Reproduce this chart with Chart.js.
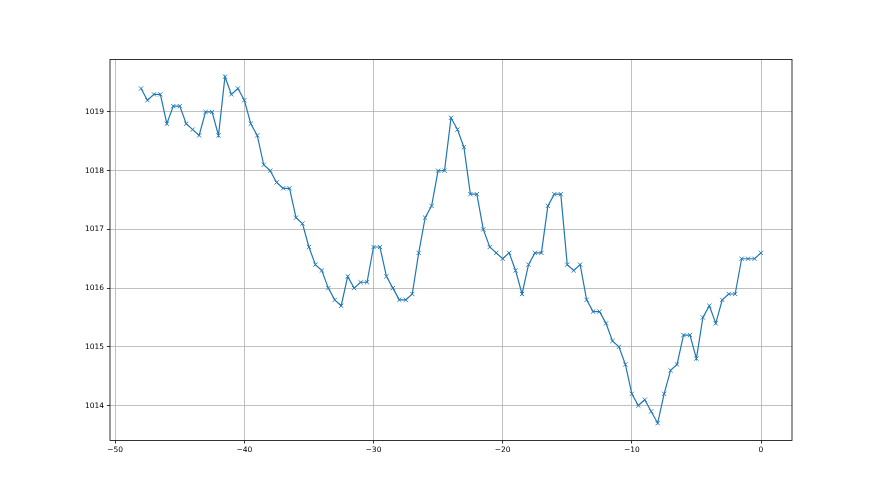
<!DOCTYPE html>
<html><head><meta charset="utf-8">
<script src="https://cdn.jsdelivr.net/npm/chart.js@4/dist/chart.umd.min.js"></script>
<style>html,body{margin:0;padding:0;background:#fff}#wrap{width:880px;height:495px}</style>
</head><body><div id="wrap"><canvas id="c" width="880" height="495"></canvas></div>
<script>
const xStart = -48, xStep = 0.5;
const pressure = [
 1019.4,1019.2,1019.3,1019.3,1018.8,1019.1,1019.1,1018.8,1018.7,1018.6,
 1019.0,1019.0,1018.6,1019.6,1019.3,1019.4,1019.2,1018.8,1018.6,1018.1,
 1018.0,1017.8,1017.7,1017.7,1017.2,1017.1,1016.7,1016.4,1016.3,1016.0,
 1015.8,1015.7,1016.2,1016.0,1016.1,1016.1,1016.7,1016.7,1016.2,1016.0,
 1015.8,1015.8,1015.9,1016.6,1017.2,1017.4,1018.0,1018.0,1018.9,1018.7,
 1018.4,1017.6,1017.6,1017.0,1016.7,1016.6,1016.5,1016.6,1016.3,1015.9,
 1016.4,1016.6,1016.6,1017.4,1017.6,1017.6,1016.4,1016.3,1016.4,1015.8,
 1015.6,1015.6,1015.4,1015.1,1015.0,1014.7,1014.2,1014.0,1014.1,1013.9,
 1013.7,1014.2,1014.6,1014.7,1015.2,1015.2,1014.8,1015.5,1015.7,1015.4,
 1015.8,1015.9,1015.9,1016.5,1016.5,1016.5,1016.6
];
const xValues = pressure.map((_, i) => xStart + i * xStep);
const xTicks = [-50, -40, -30, -20, -10, 0];
const yTicks = [1014, 1015, 1016, 1017, 1018, 1019];

const points = xValues.map((x, i) => ({x: x, y: pressure[i]}));
const xMin = -50.4, xMax = 2.4, yMin = 1013.405, yMax = 1019.895;

const frame = {
  id: 'frame',
  afterDraw(chart) {
    const a = chart.chartArea, ctx = chart.ctx;
    ctx.save();
    ctx.strokeStyle = '#000';
    ctx.lineWidth = 0.8;
    ctx.strokeRect(a.left, a.top, a.right - a.left, a.bottom - a.top);
    ctx.restore();
  }
};

new Chart(document.getElementById('c'), {
  type: 'scatter',
  data: { datasets: [{
    data: points,
    showLine: true,
    borderColor: '#1f77b4',
    backgroundColor: '#1f77b4',
    borderWidth: 1.2,
    pointStyle: 'crossRot',
    pointRadius: 3,
    pointBorderWidth: 0.9,
    pointHoverRadius: 3,
    tension: 0
  }]},
  options: {
    responsive: false,
    animation: false,
    events: [],
    layout: { padding: { left: 70, right: 88, top: 59.4, bottom: 24.5 } },
    plugins: { legend: { display: false }, tooltip: { enabled: false } },
    scales: {
      x: {
        type: 'linear', min: xMin, max: xMax,
        afterBuildTicks: ax => { ax.ticks = xTicks.map(v => ({value: v})); },
        afterFit: s => { s.height = 30; },
        grid: { color: '#b0b0b0', lineWidth: 0.8, tickColor: '#000', tickLength: 3, drawTicks: true },
        border: { display: false },
        ticks: { color: '#000', padding: 2, maxRotation: 0, font: { family: 'DejaVu Sans', size: 7.5 },
                 callback: v => (v < 0 ? '\u2212' + Math.abs(v) : String(v)) }
      },
      y: {
        type: 'linear', min: yMin, max: yMax,
        afterBuildTicks: ax => { ax.ticks = yTicks.map(v => ({value: v})); },
        afterFit: s => { s.width = 40; },
        grid: { color: '#b0b0b0', lineWidth: 0.8, tickColor: '#000', tickLength: 3, drawTicks: true },
        border: { display: false },
        ticks: { color: '#000', padding: 3, font: { family: 'DejaVu Sans', size: 7.5 },
                 callback: v => String(v) }
      }
    }
  },
  plugins: [frame]
});
</script></body></html>
